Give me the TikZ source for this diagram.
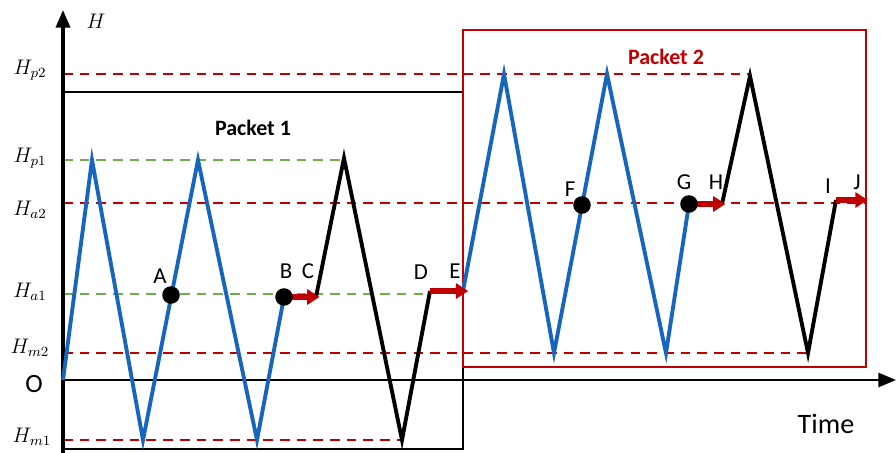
\documentclass[tikz,border=0pt]{standalone}
\usepackage{fontspec}
\setsansfont{Carlito}
\usetikzlibrary{arrows.meta}
\definecolor{lineblue}{RGB}{22,102,192}
\definecolor{darkred}{RGB}{192,0,0}
\definecolor{levelgreen}{RGB}{112,173,71}
\tikzset{
  axis/.style={line width=1.8pt,-{Triangle[length=10pt,width=8pt]}},
  redlevel/.style={darkred,line width=1.3pt,dash pattern=on 5.5pt off 4pt},
  greenlevel/.style={levelgreen,line width=1.3pt,dash pattern=on 5.5pt off 4pt},
  blueline/.style={lineblue,line width=2.2pt},
  blackline/.style={black,line width=2.2pt},
  shift arrow/.style={darkred,line width=3pt,-{Triangle[length=7pt,width=8.5pt]}},
  dot/.style={fill=black},
  pt label/.style={font=\sffamily\fontsize{13}{13}\selectfont},
  level label/.style={font=\fontsize{11.5}{11.5}\selectfont}
}
\begin{document}
\begin{tikzpicture}[x=0.02cm,y=-0.02cm]
\useasboundingbox (0,0) rectangle (896,453);
% packets
\draw[line width=0.9pt] (63,92) rectangle (463,449);
\draw[darkred,line width=0.9pt] (463,30) rectangle (866,367);
\node[font=\sffamily\bfseries\fontsize{12.5}{12.5}\selectfont] (pk1) at (253,128) {Packet 1};
\node[font=\sffamily\bfseries\fontsize{12.5}{12.5}\selectfont,darkred] (pk2) at (666,57) {Packet 2};
% levels
\draw[redlevel] (63,74)--(750,74);
\draw[greenlevel] (63,160)--(344,160);
\draw[redlevel] (63,203)--(866,203);
\draw[greenlevel] (63,294)--(430,294);
\draw[redlevel] (63,353)--(808,353);
\draw[redlevel] (63,440)--(402,440);
% axes
\draw[axis] (63,453)--(63,10);
\draw[axis,line width=1.4pt] (63,380)--(896,380);
\node[level label] (h) at (96,21) {$H$};
\node[level label] (hp2) at (30,70) {$H_{p2}$};
\node[level label] (hp1) at (30,158) {$H_{p1}$};
\node[level label] (ha2) at (30,210) {$H_{a2}$};
\node[level label] (ha1) at (30,292) {$H_{a1}$};
\node[level label] (hm2) at (30,348) {$H_{m2}$};
\node[font=\sffamily\fontsize{15}{15}\selectfont] (o) at (34,384) {O};
\node[level label] (hm1) at (32,437) {$H_{m1}$};
\node[font=\sffamily\fontsize{16}{16}\selectfont] (time) at (826,424) {Time};
% points
\coordinate (A) at (171,295);
\coordinate (B) at (284,297);
\coordinate (C) at (316,297);
\coordinate (D) at (430,291);
\coordinate (E) at (463,291);
\coordinate (F) at (582,205);
\coordinate (G) at (689,204);
\coordinate (H) at (722,204);
\coordinate (I) at (836,200);
\coordinate (J) at (866,200);
% heights
\draw[blueline] (63,380)--(92,160)--(143,440)--(198,160)--(257,440)--(B);
\draw[blackline] (C)--(344,158)--(402,440)--(D);
\draw[blueline] (E)--(504,74)--(554,353)--(607,74)--(666,353)--(G);
\draw[blackline] (H)--(750,76)--(808,353)--(I);
\draw[shift arrow] (B)--([xshift=2]C);
\draw[shift arrow] (D)--([xshift=3]E);
\draw[shift arrow] (G)--([xshift=2]H);
\draw[shift arrow] (I)--([xshift=1]J);
\foreach \p in {A,B,F,G} \fill[dot] (\p) circle (5pt);
\node[pt label] at (160,276) {A};
\node[pt label] at (286,271) {B};
\node[pt label] at (308,271) {C};
\node[pt label] at (421,272) {D};
\node[pt label] at (455,271) {E};
\node[pt label] at (570,189) {F};
\node[pt label] at (684,182) {G};
\node[pt label] at (716,182) {H};
\node[pt label] at (828,186) {I};
\node[pt label] at (857,182) {J};
\end{tikzpicture}
\end{document}
